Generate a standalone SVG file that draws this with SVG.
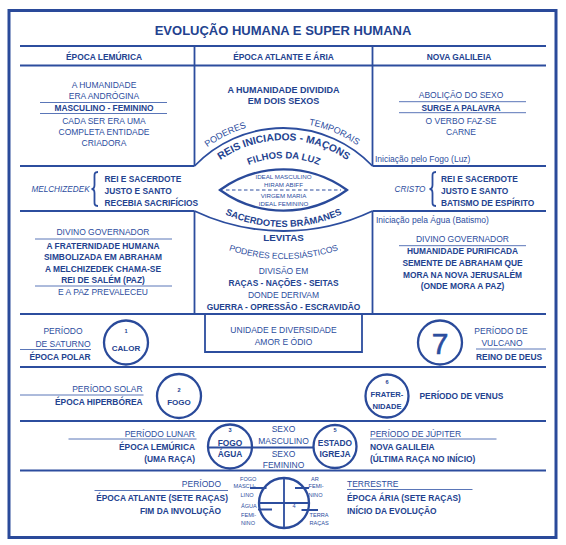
<svg xmlns="http://www.w3.org/2000/svg" width="566" height="545" viewBox="0 0 566 545">
<defs>
<style>
text{font-family:"Liberation Sans",Arial,sans-serif;fill:#2c4d9e;font-size:8.5px}
.b{font-weight:bold;font-size:8.4px;fill:#23428f}
.m{text-anchor:middle}
.e{text-anchor:end}
.i{font-style:italic}
.s{font-size:5.6px}
.g{fill:none;stroke:#2c4d9e;stroke-width:1.8}
.u{fill:none;stroke:#5a76b8;stroke-width:1}
.k{fill:none;stroke:#2a4a9a;stroke-width:2.3}
</style>
<path id="pTop" d="M154.5,251.2 A129,129 0 0 1 412.5,251.2"/>
<path id="pReis" d="M172.5,251.2 A111,111 0 0 1 394.5,251.2"/>
<path id="pFil" d="M190.5,251.2 A93,93 0 0 1 376.5,251.2"/>
<path id="pSac" d="M143.5,87 A140,140 0 0 0 423.5,87"/>
<path id="pEcl" d="M110.5,86 A173,173 0 0 0 456.5,86"/>
</defs>
<rect width="566" height="545" fill="#fff"/>
<rect x="9" y="10.5" width="547" height="527" fill="none" stroke="#2a4a9a" stroke-width="3"/>

<g id="connectors">
<path class="g" d="M20,46 H546 M20,65.5 H546 M194.5,46 V166 M372.5,46 V166 M20,166 H194.5 M372.5,166 H546 M20,211 H194.5 M372.5,211 H546 M194.5,211 V314 M372.5,211 V314 M20,314 H546 M20,367 H546 M20,421 H546 M20,470.5 H546"/>
<path class="g" d="M194.5,166 A123.2,123.2 0 0 1 372.5,166"/>
<path class="g" d="M194.5,211 A208,208 0 0 0 372.5,211"/>
<path class="g" d="M205,314 V352 H362 V314"/>
<path class="u" d="M40,102.5 H167 M40,113.5 H167 M399,101.7 H526 M399,112.7 H526 M35,239 H172 M35,286 H172 M399,245.7 H526"/>
<path class="g" stroke-width="1.3" d="M98,172 C94,172 94.5,174 94.5,178 L94.5,185 C94.5,188 93.5,189 91.5,189 C93.5,189 94.5,190 94.5,193 L94.5,200 C94.5,204 94,206 98,206"/>
<path class="g" stroke-width="1.3" d="M436,172 C432,172 432.5,174 432.5,178 L432.5,185 C432.5,188 431.5,189 429.5,189 C431.5,189 432.5,190 432.5,193 L432.5,200 C432.5,204 432,206 436,206"/>
<path class="u" stroke-width="1.3" d="M20,349.5 H91 M476,349 H546 M20,395 H143.5 M68.5,439 H196.5 M370,439 H496.5 M94.5,490.5 H228 M347,489.5 H472.5"/>
<path class="g" stroke-width="1.3" d="M208,447.5 H314"/>
</g>

<g id="title">
<text class="b m" x="283" y="35" style="font-size:13px">EVOLUÇÃO HUMANA E SUPER HUMANA</text>
</g>

<g id="headers">
<text class="b m" x="104" y="59.5">ÉPOCA LEMÚRICA</text>
<text class="b m" x="283.5" y="59.5">ÉPOCA ATLANTE E ÁRIA</text>
<text class="b m" x="459" y="59.5">NOVA GALILEIA</text>
</g>

<g id="lemurica-top">
<text class="m" x="104" y="88">A HUMANIDADE</text>
<text class="m" x="104" y="99">ERA ANDRÓGINA</text>
<text class="b m" x="104" y="111">MASCULINO - FEMININO</text>
<text class="m" x="104" y="124">CADA SER ERA UMA</text>
<text class="m" x="104" y="135">COMPLETA ENTIDADE</text>
<text class="m" x="104" y="145.5">CRIADORA</text>
</g>

<g id="atlante-top">
<text class="b m" x="283.5" y="92.5" style="font-size:9px">A HUMANIDADE DIVIDIDA</text>
<text class="b m" x="283.5" y="104" style="font-size:9px">EM DOIS SEXOS</text>
<text style="font-size:9px"><textPath href="#pTop" startOffset="143" text-anchor="middle">PODERES</textPath></text>
<text style="font-size:9px"><textPath href="#pTop" startOffset="254.5" text-anchor="middle">TEMPORAIS</textPath></text>
<text class="b" style="font-size:10.3px"><textPath href="#pReis" startOffset="174.4" text-anchor="middle">REIS INICIADOS - MAÇONS</textPath></text>
<text class="b" style="font-size:9.5px"><textPath href="#pFil" startOffset="146.1" text-anchor="middle">FILHOS DA LUZ</textPath></text>
</g>

<g id="galileia-top">
<text class="m" x="461" y="98">ABOLIÇÃO DO SEXO</text>
<text class="b m" x="461" y="110.5">SURGE A PALAVRA</text>
<text class="m" x="461" y="124">O VERBO FAZ-SE</text>
<text class="m" x="461" y="134.5">CARNE</text>
<text x="375" y="161.5">Iniciação pelo Fogo (Luz)</text>
</g>

<g id="melchizedek">
<text class="i m" x="60.5" y="192" style="font-size:8.2px">MELCHIZEDEK</text>
<text class="b" x="104.5" y="182">REI E SACERDOTE</text>
<text class="b" x="104.5" y="194">JUSTO E SANTO</text>
<text class="b" x="104.5" y="206">RECEBIA SACRIFÍCIOS</text>
</g>

<g id="lens">
<path class="k" stroke-width="2" d="M220,190 A108,108 0 0 1 347,190 A108,108 0 0 1 220,190 Z"/>
<path d="M226,190 H341" stroke="#2c4d9e" stroke-width="1" stroke-dasharray="3.5 2.5"/>
<text class="m" x="283.5" y="179" style="font-size:6.2px">IDEAL MASCULINO</text>
<text class="m" x="283.5" y="187" style="font-size:6.2px">HIRAM ABIFF</text>
<text class="m" x="283.5" y="198" style="font-size:6.2px">VIRGEM MARIA</text>
<text class="m" x="283.5" y="206" style="font-size:6.2px">IDEAL FEMININO</text>
</g>

<g id="cristo">
<text class="i m" x="410" y="192" style="font-size:8.2px">CRISTO</text>
<text class="b" x="441" y="182">REI E SACERDOTE</text>
<text class="b" x="441" y="194">JUSTO E SANTO</text>
<text class="b" x="441" y="206">BATISMO DE ESPÍRITO</text>
</g>

<g id="lemurica-mid">
<text class="m" x="103" y="234.7">DIVINO GOVERNADOR</text>
<text class="b m" x="103" y="248.7">A FRATERNIDADE HUMANA</text>
<text class="b m" x="103" y="260.3">SIMBOLIZADA EM ABRAHAM</text>
<text class="b m" x="103" y="272">A MELCHIZEDEK CHAMA-SE</text>
<text class="b m" x="103" y="283">REI DE SALÉM (PAZ)</text>
<text class="m" x="103" y="295.3">E A PAZ PREVALECEU</text>
</g>

<g id="atlante-mid">
<text class="b" style="font-size:9.3px"><textPath href="#pSac" startOffset="219.9" text-anchor="middle">SACERDOTES BRÂMANES</textPath></text>
<text class="b m" x="283.5" y="240.5" style="font-size:9.8px">LEVITAS</text>
<text><textPath href="#pEcl" startOffset="271.75" text-anchor="middle">PODERES ECLESIÁSTICOS</textPath></text>
<text class="m" x="283.5" y="273.5">DIVISÃO EM</text>
<text class="b m" x="283.5" y="285.5">RAÇAS - NAÇÕES - SEITAS</text>
<text class="m" x="283.5" y="297.5">DONDE DERIVAM</text>
<text class="b m" x="283.5" y="309.5">GUERRA - OPRESSÃO - ESCRAVIDÃO</text>
</g>

<g id="galileia-mid">
<text x="376" y="223">Iniciação pela Água (Batismo)</text>
<text class="m" x="462.5" y="242.3">DIVINO GOVERNADOR</text>
<text class="b m" x="462.5" y="254">HUMANIDADE PURIFICADA</text>
<text class="b m" x="462.5" y="266.3">SEMENTE DE ABRAHAM QUE</text>
<text class="b m" x="462.5" y="278">MORA NA NOVA JERUSALÉM</text>
<text class="b m" x="462.5" y="289">(ONDE MORA A PAZ)</text>
</g>

<g id="saturno">
<text class="m" x="63" y="334">PERÍODO</text>
<text class="e" x="90.5" y="346.5">DE SATURNO</text>
<text class="b e" x="90.5" y="359.5">ÉPOCA POLAR</text>
</g>
<g id="circle-1">
<circle class="k" cx="126" cy="342.5" r="22"/>
<text class="b m s" x="126" y="333">1</text>
<text class="b m" x="126" y="351" style="font-size:8px">CALOR</text>
</g>
<g id="unidade">
<text class="m" x="283.5" y="332.5">UNIDADE E DIVERSIDADE</text>
<text class="m" x="283.5" y="344.5">AMOR E ÓDIO</text>
</g>
<g id="circle-7">
<circle class="k" cx="440" cy="342.5" r="22"/>
<text class="m" x="440" y="353.5" style="font-size:30px" stroke="#2c4d9e" stroke-width="0.6">7</text>
</g>
<g id="vulcano">
<text class="m" x="501" y="334">PERÍODO DE</text>
<text class="m" x="502" y="346">VULCANO</text>
<text class="b" x="476" y="359.5">REINO DE DEUS</text>
</g>

<g id="solar">
<text class="e" x="142.6" y="392">PERÍODO SOLAR</text>
<text class="b e" x="142.6" y="405">ÉPOCA HIPERBÓREA</text>
</g>
<g id="circle-2">
<circle class="k" cx="179" cy="396" r="22"/>
<text class="b m s" x="179" y="391.6">2</text>
<text class="b m" x="179" y="404.5" style="font-size:8px">FOGO</text>
</g>
<g id="circle-6">
<circle class="k" cx="387" cy="396" r="21.5"/>
<text class="b m s" x="387" y="384.4">6</text>
<text class="b m" x="387" y="397" style="font-size:7.6px">FRATER-</text>
<text class="b m" x="387" y="409" style="font-size:7.6px">NIDADE</text>
</g>
<g id="venus">
<text class="b" x="419.5" y="399">PERÍODO DE VENUS</text>
</g>

<g id="lunar">
<text class="e" x="195" y="437">PERÍODO LUNAR</text>
<text class="b e" x="195" y="450">ÉPOCA LEMÚRICA</text>
<text class="b e" x="195" y="462">(UMA RAÇA)</text>
</g>
<g id="circle-3">
<circle class="k" cx="230" cy="446.5" r="22"/>
<text class="b m s" x="230" y="431.5">3</text>
<text class="b m" x="230" y="445.5">FOGO</text>
<text class="b m" x="230" y="457">ÁGUA</text>
</g>
<g id="sexo">
<text class="m" x="283.5" y="431.5">SEXO</text>
<text class="m" x="283.5" y="443.5">MASCULINO</text>
<text class="m" x="283.5" y="456.5">SEXO</text>
<text class="m" x="283.5" y="468">FEMININO</text>
</g>
<g id="circle-5">
<circle class="k" cx="335" cy="446.5" r="21.5"/>
<text class="b m s" x="335" y="431.5">5</text>
<text class="b m" x="335" y="445.5">ESTADO</text>
<text class="b m" x="335" y="457">IGREJA</text>
</g>
<g id="jupiter">
<text x="370" y="437">PERÍODO DE JÚPITER</text>
<text class="b" x="370" y="450">NOVA GALILEIA</text>
<text class="b" x="370" y="462">(ÚLTIMA RAÇA NO INÍCIO)</text>
</g>

<g id="atlante-bottom">
<text class="e" x="221" y="487">PERÍODO</text>
<text class="b e" x="228" y="501">ÉPOCA ATLANTE (SETE RAÇAS)</text>
<text class="b e" x="221" y="513.5">FIM DA INVOLUÇÃO</text>
</g>
<g id="circle-4">
<circle class="k" cx="284" cy="503" r="25"/>
<path class="g" stroke-width="1.3" d="M284,478 V528 M259,503 H309 M250,488 H266.5 M258,509.5 H272 M295,488 H309 M301.5,510 H318"/>
<text class="s" x="240" y="480.5">FOGO</text>
<text class="s" x="233.5" y="488">MASCU-</text>
<text class="s" x="240.5" y="496.5">LINO</text>
<text class="s" x="241" y="508">ÁGUA</text>
<text class="s" x="241" y="516.5">FEMI-</text>
<text class="s" x="241" y="525">NINO</text>
<text class="s m" x="315" y="480.5">AR</text>
<text class="s" x="308.5" y="488">FEMI-</text>
<text class="s" x="308.5" y="496.5">NINO</text>
<text class="s" x="309.5" y="516.5">TERRA</text>
<text class="s" x="309.5" y="525">RAÇAS</text>
<text class="s m" x="294" y="507.5">4</text>
</g>
<g id="aria-bottom">
<text x="347" y="487">TERRESTRE</text>
<text class="b" x="347" y="501">ÉPOCA ÁRIA (SETE RAÇAS)</text>
<text class="b" x="347" y="513.5">INÍCIO DA EVOLUÇÃO</text>
</g>
</svg>
